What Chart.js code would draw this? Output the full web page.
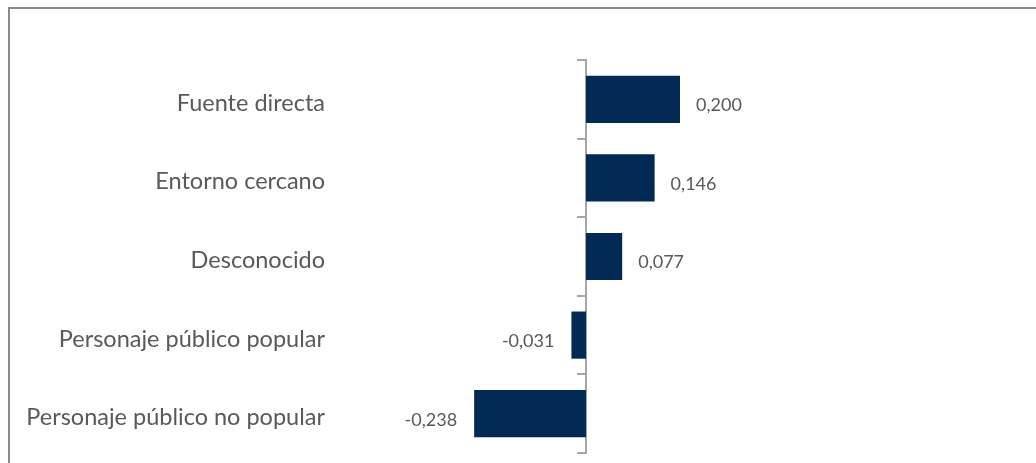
<!DOCTYPE html>
<html lang="es">
<head>
<meta charset="utf-8">
<title>Fuente del mensaje</title>
<script src="https://cdn.jsdelivr.net/npm/chart.js@4"></script>
<style>
  html, body { margin: 0; padding: 0; background: #ffffff; overflow: hidden; }
  #wrap { position: relative; width: 1036px; height: 463px; overflow: hidden; }
  #frame {
    position: absolute; left: 8px; top: 7px; width: 1100px; height: 600px;
    border: 2px solid #8a8a8a; box-sizing: border-box;
  }
  #chart { position: absolute; left: 0; top: 0; }
</style>
</head>
<body>
<div id="wrap">
  <div id="frame"></div>
  <canvas id="chart" width="1036" height="463"></canvas>
</div>
<script>
// Categories (top to bottom) and their values
const categories = [
  'Fuente directa',
  'Entorno cercano',
  'Desconocido',
  'Personaje público popular',
  'Personaje público no popular'
];
const values = [0.200, 0.146, 0.077, -0.031, -0.238];

// Value axis range (axis itself is hidden)
const xMin = -0.5;
const xMax = 0.9;

const BAR_COLOR = '#022a54';
const TEXT_COLOR = '#595959';
const AXIS_COLOR = '#a6a6a6';
const FONT = 'Lato, "Open Sans", sans-serif';

const fmt = v => v.toFixed(3).replace('.', ',');

// Writes each bar's value beside its end
const valueLabels = {
  id: 'valueLabels',
  afterDatasetsDraw(chart) {
    const ctx = chart.ctx;
    const meta = chart.getDatasetMeta(0);
    ctx.save();
    ctx.font = '18px ' + FONT;
    ctx.fillStyle = TEXT_COLOR;
    ctx.textBaseline = 'middle';
    meta.data.forEach((bar, i) => {
      const v = chart.data.datasets[0].data[i];
      if (v >= 0) {
        ctx.textAlign = 'left';
        ctx.fillText(fmt(v), bar.x + 16, bar.y + 6);
      } else {
        ctx.textAlign = 'right';
        ctx.fillText(fmt(v), bar.x - 17, bar.y + 6);
      }
    });
    ctx.restore();
  }
};

new Chart(document.getElementById('chart'), {
  type: 'bar',
  data: {
    labels: categories,
    datasets: [{
      data: values,
      backgroundColor: BAR_COLOR,
      borderWidth: 0,
      barPercentage: 1.0,
      categoryPercentage: 0.6,
      yAxisID: 'y'
    }]
  },
  options: {
    indexAxis: 'y',
    responsive: false,
    animation: false,
    layout: { padding: { top: 60, bottom: 10, right: 27, left: 0 } },
    plugins: {
      legend: { display: false },
      tooltip: { enabled: false }
    },
    scales: {
      x: {
        type: 'linear',
        display: false,
        min: xMin,
        max: xMax
      },
      // category names on the left
      y: {
        type: 'category',
        position: 'left',
        offset: true,
        grid: { display: false, drawTicks: false },
        border: { display: false },
        ticks: {
          color: TEXT_COLOR,
          font: { family: FONT, size: 23.5 },
          padding: 26,
          labelOffset: 4
        },
        afterFit(scale) {
          scale.width = 351;
          scale.paddingTop = 0;
          scale.paddingBottom = 0;
        }
      },
      // axis line with tick marks at the zero value
      y2: {
        type: 'category',
        axis: 'y',
        labels: categories,
        position: { x: 0 },
        offset: true,
        grid: {
          offset: true,
          drawOnChartArea: false,
          drawTicks: true,
          tickLength: 8,
          color: AXIS_COLOR,
          lineWidth: 2
        },
        border: { display: true, color: AXIS_COLOR, width: 2 },
        ticks: { display: false }
      }
    }
  },
  plugins: [valueLabels]
});
</script>
</body>
</html>
